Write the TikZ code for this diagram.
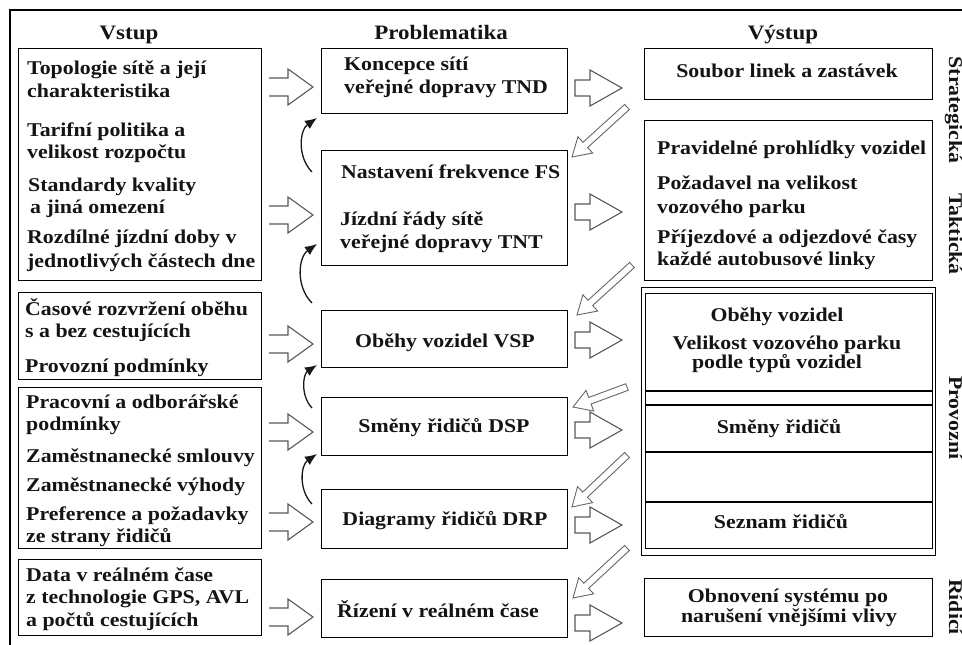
\documentclass[tikz,border=0pt]{standalone}
\usepackage{fontspec}
\setmainfont{Liberation Serif}[FakeStretch=1.12]
\usetikzlibrary{calc,arrows.meta}
\newcommand\txtW[4]{\node[txt,anchor=base west] (#1) at (#2,#3) {#4};}
\newcommand\txtC[4]{\node[txt,anchor=base] (#1) at (#2,#3) {#4};}
\newcommand\arrL[2]{\draw[blk] (#1,#2-9) -- (#1+19,#2-9) -- (#1+19,#2-18) -- (#1+44,#2) -- (#1+19,#2+18) -- (#1+19,#2+9) -- (#1,#2+9);}
\newcommand\arrR[2]{\draw[blk] (#1,#2-8) -- (#1+15,#2-8) -- (#1+15,#2-18) -- (#1+47,#2) -- (#1+15,#2+18) -- (#1+15,#2+8) -- (#1,#2+8) -- cycle;}
\newcommand\hdiag[2]{%
  \coordinate (hh) at ($(#2)!18pt!(#1)$);
  \draw[thinarr] ($(#1)!3.5pt!90:(#2)$) -- ($(hh)!3.5pt!90:(#2)$) -- ($(hh)!11pt!90:(#2)$) -- (#2) -- ($(hh)!11pt!-90:(#2)$) -- ($(hh)!3.5pt!-90:(#2)$) -- ($(#1)!3.5pt!-90:(#2)$) -- cycle;}
\begin{document}
\begin{tikzpicture}[x=1pt,y=-1pt,
  box/.style={draw=black, line width=1.3pt, inner sep=0pt, anchor=north west, rectangle},
  txt/.style={inner sep=0pt, font=\bfseries\fontsize{19.5}{23}\selectfont, text=black!92},
  hdr/.style={inner sep=0pt, anchor=base, font=\bfseries\fontsize{20.5}{24}\selectfont, text=black!92},
  side/.style={inner sep=0pt, anchor=base, rotate=-90, font=\bfseries\fontsize{19.5}{23}\selectfont, text=black!92},
  blk/.style={draw=black!65, line width=1.1pt, fill=white},
  thinarr/.style={draw=black!60, line width=0.9pt, fill=white},
  curv/.style={black!90, line width=1.3pt, -{Latex[length=12pt,width=10pt]}}]
\useasboundingbox (0,0) rectangle (962,645);
\clip (0,0) rectangle (962,645);
% outer frame
\draw[line width=1.4pt] (10,660) -- (10,10) -- (980,10);
% headers
\node[hdr] (hV) at (129,39) {Vstup};
\node[hdr] (hP) at (441,39) {Problematika};
\node[hdr] (hO) at (783,39) {Výstup};
% left boxes
\node[box, minimum width=243pt, minimum height=232pt] (L1) at (18,48) {};
\node[box, minimum width=243pt, minimum height=87pt] (L2) at (18,292) {};
\node[box, minimum width=243pt, minimum height=161pt] (L3) at (18,387) {};
\node[box, minimum width=243pt, minimum height=76pt] (L4) at (18,559) {};
% middle boxes
\node[box, minimum width=246pt, minimum height=65pt] (M1) at (321,48) {};
\node[box, minimum width=246pt, minimum height=115pt] (M2) at (321,150) {};
\node[box, minimum width=246pt, minimum height=57pt] (M3) at (321,310) {};
\node[box, minimum width=246pt, minimum height=58pt] (M4) at (321,397) {};
\node[box, minimum width=246pt, minimum height=59pt] (M5) at (321,489) {};
\node[box, minimum width=246pt, minimum height=58pt] (M6) at (321,579) {};
% right boxes
\node[box, minimum width=288pt, minimum height=51pt] (R1) at (644,48) {};
\node[box, minimum width=288pt, minimum height=160pt] (R2) at (644,120) {};
\node[box, minimum width=294pt, minimum height=268pt] (Rg) at (641,287) {};
\node[box, minimum width=287pt, minimum height=255pt] (Ri) at (645,293) {};
\draw[line width=1.3pt] (Ri.west |- 0,391) -- (Ri.east |- 0,391);
\draw[line width=1.3pt] (Ri.west |- 0,405) -- (Ri.east |- 0,405);
\draw[line width=1.3pt] (Ri.west |- 0,452) -- (Ri.east |- 0,452);
\draw[line width=1.3pt] (Ri.west |- 0,502) -- (Ri.east |- 0,502);
\node[box, minimum width=288pt, minimum height=58pt] (R4) at (644,578) {};
% left texts
\txtW{l1a}{27}{74}{Topologie sítě a její}
\txtW{l1b}{27}{97}{charakteristika}
\txtW{l1c}{27}{136}{Tarifní politika a}
\txtW{l1d}{27}{158}{velikost rozpočtu}
\txtW{l1e}{28}{191}{Standardy kvality}
\txtW{l1f}{30}{213}{a jiná omezení}
\txtW{l1g}{27}{243}{Rozdílné jízdní doby v}
\txtW{l1h}{27}{267}{jednotlivých částech dne}
\txtW{l2a}{25}{315}{Časové rozvržení oběhu}
\txtW{l2b}{25}{337}{s a bez cestujících}
\txtW{l2c}{25}{372}{Provozní podmínky}
\txtW{l3a}{26}{408}{Pracovní a odborářské}
\txtW{l3b}{26}{430}{podmínky}
\txtW{l3c}{26}{462}{Zaměstnanecké smlouvy}
\txtW{l3d}{26}{491}{Zaměstnanecké výhody}
\txtW{l3e}{26}{520}{Preference a požadavky}
\txtW{l3f}{26}{542}{ze strany řidičů}
\txtW{l4a}{26}{581}{Data v reálném čase}
\txtW{l4b}{26}{603}{z technologie GPS, AVL}
\txtW{l4c}{26}{626}{a počtů cestujících}
% middle texts
\txtW{m1a}{344}{70}{Koncepce sítí}
\txtW{m1b}{344}{93}{veřejné dopravy TND}
\txtW{m2a}{341}{178}{Nastavení frekvence FS}
\txtW{m2b}{340}{225}{Jízdní řády sítě}
\txtW{m2c}{340}{248}{veřejné dopravy TNT}
\txtC{m3}{445}{347}{Oběhy vozidel VSP}
\txtC{m4}{444}{432}{Směny řidičů DSP}
\txtC{m5}{445}{525}{Diagramy řidičů DRP}
\txtC{m6}{438}{617}{Řízení v reálném čase}
% right texts
\txtC{r1}{787}{77}{Soubor linek a zastávek}
\txtW{r2a}{657}{154}{Pravidelné prohlídky vozidel}
\txtW{r2b}{657}{189}{Požadavel na velikost}
\txtW{r2c}{657}{213}{vozového parku}
\txtW{r2d}{657}{243}{Příjezdové a odjezdové časy}
\txtW{r2e}{657}{265}{každé autobusové linky}
\txtC{r3a}{777}{321}{Oběhy vozidel}
\txtC{r3b}{787}{349}{Velikost vozového parku}
\txtC{r3c}{777}{368}{podle typů vozidel}
\txtC{r4}{779}{433}{Směny řidičů}
\txtC{r5}{781}{528}{Seznam řidičů}
\txtC{r6a}{788}{602}{Obnovení systému po}
\txtC{r6b}{789}{622}{narušení vnějšími vlivy}
% side labels
\node[side] (sS) at (949,110) {Strategická};
\node[side] (sT) at (949,234) {Taktická};
\node[side] (sP) at (949,418) {Provozní};
\node[side] (sR) at (949,607) {Řídicí};
% block arrows left -> middle
\arrL{269}{87}
\arrL{269}{215}
\arrL{269}{344}
\arrL{269}{432}
\arrL{269}{522}
\arrL{269}{617}
% block arrows middle -> right
\arrR{575}{88}
\arrR{575}{212}
\arrR{575}{340}
\arrR{575}{430}
\arrR{575}{525}
\arrR{575}{623}
% diagonal arrows
\coordinate (d1t) at (627,107); \coordinate (d1h) at (572,157);
\coordinate (d2t) at (632,265); \coordinate (d2h) at (577,315);
\coordinate (d3t) at (627,387); \coordinate (d3h) at (573,407);
\coordinate (d4t) at (627,455); \coordinate (d4h) at (572,507);
\coordinate (d5t) at (627,548); \coordinate (d5h) at (573,598);
\hdiag{d1t}{d1h}
\hdiag{d2t}{d2h}
\hdiag{d3t}{d3h}
\hdiag{d4t}{d4h}
\hdiag{d5t}{d5h}
% curved arrows
\coordinate (c1s) at (312,172); \coordinate (c1e) at (317,118);
\coordinate (c2s) at (312,303); \coordinate (c2e) at (317,244);
\coordinate (c3s) at (312,408); \coordinate (c3e) at (317,365);
\coordinate (c4s) at (312,504); \coordinate (c4e) at (317,454);
\draw[curv] (c1s) to[bend left=50] (c1e);
\draw[curv] (c2s) to[bend left=50] (c2e);
\draw[curv] (c3s) to[bend left=50] (c3e);
\draw[curv] (c4s) to[bend left=50] (c4e);
\end{tikzpicture}
\end{document}
